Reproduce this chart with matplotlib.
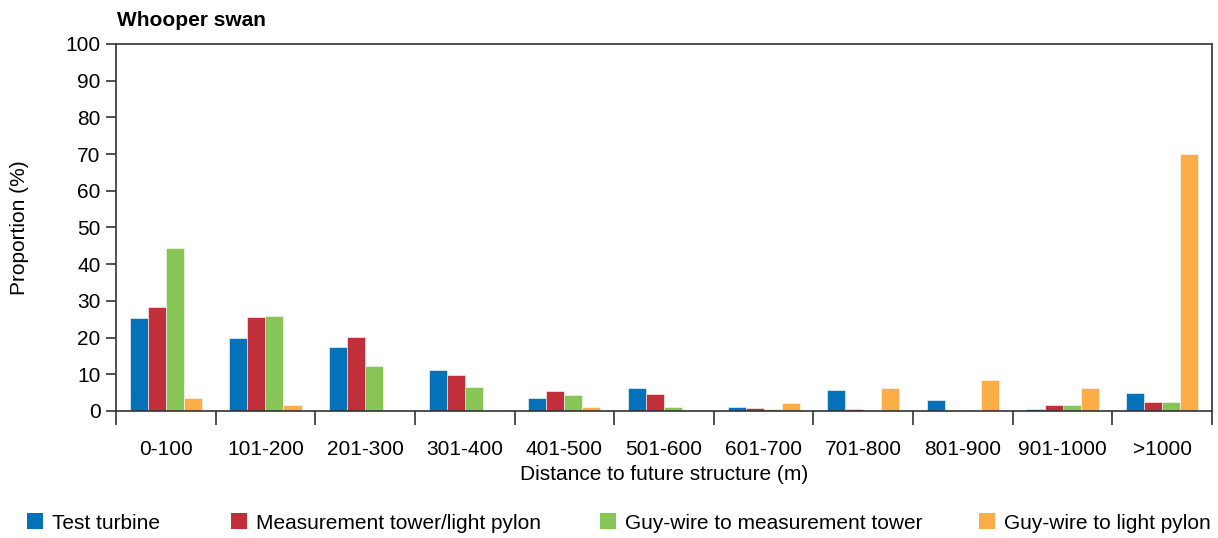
import matplotlib
matplotlib.use("Agg")
import matplotlib.pyplot as plt
import numpy as np
from matplotlib.patches import Patch

plt.rcParams['font.family'] = ['Liberation Sans', 'DejaVu Sans']

categories = ["0-100", "101-200", "201-300", "301-400", "401-500", "501-600",
              "601-700", "701-800", "801-900", "901-1000", ">1000"]
series_names = ["Test turbine", "Measurement tower/light pylon",
                "Guy-wire to measurement tower", "Guy-wire to light pylon"]
test_turbine = [25.3, 19.8, 17.5, 11.2, 3.6, 6.3, 1.1, 5.8, 2.9, 0.6, 5.0]
measurement_tower = [28.4, 25.5, 20.2, 9.8, 5.4, 4.5, 0.8, 0.5, 0.0, 1.7, 2.5]
guy_wire_tower = [44.4, 26.0, 12.3, 6.6, 4.3, 1.0, 0.5, 0.0, 0.0, 1.7, 2.5]
guy_wire_pylon = [3.5, 1.6, 0.3, 0.0, 1.2, 0.0, 2.3, 6.2, 8.4, 6.3, 69.9]
colors = ["#0571B9", "#C1303A", "#88C557", "#FBAD48"]

series = [test_turbine, measurement_tower, guy_wire_tower, guy_wire_pylon]
FS = 15

fig = plt.figure(figsize=(12.18, 5.38), dpi=100)
ax = fig.add_axes([116/1218, 1 - 411/538, (1212-116)/1218, (411-44)/538])

x = np.arange(len(categories))
w = 0.181
for i, (vals, c) in enumerate(zip(series, colors)):
    ax.bar(x + (i - 1.5) * w, vals, width=w, color=c, edgecolor='white',
           linewidth=0.4, label=series_names[i])

ax.set_xlim(-0.5, len(categories) - 0.5)
ax.set_ylim(0, 100)
ax.set_yticks(np.arange(0, 101, 10))
ax.set_xticks(np.arange(-0.5, len(categories), 1.0))
ax.set_xticklabels([])
ax.set_xticks(x, minor=True)
ax.set_xticklabels(categories, minor=True)
ax.tick_params(axis='x', which='major', length=10, width=1.2, color='#333333')
ax.tick_params(axis='x', which='minor', length=0, pad=21, labelsize=FS)
ax.tick_params(axis='y', length=7, width=1.2, labelsize=FS, color='#333333', pad=4)
for s in ax.spines.values():
    s.set_linewidth(1.2)
    s.set_color('#333333')

ax.set_ylabel("Proportion (%)", fontsize=FS)
ax.set_xlabel("Distance to future structure (m)", fontsize=FS)
ax.yaxis.set_label_coords((20 - 116) / 1096, 0.5)
ax.yaxis.label.set_va('center')
ax.xaxis.set_label_coords(0.5, (411 - 474) / 367)
ax.xaxis.label.set_va('center')

fig.text(117/1218, 1 - 20/538, "Whooper swan", fontsize=FS, fontweight='bold',
         va='center', ha='left')

square_x = [27, 231, 600, 979]
for name, c, sx in zip(series_names, colors, square_x):
    fig.legend([Patch(facecolor=c, edgecolor='none')], [name], loc='center left',
               bbox_to_anchor=(sx/1218, 1 - 523/538), frameon=False, fontsize=FS,
               handlelength=0.77, handleheight=0.77, handletextpad=0.43,
               borderaxespad=0, borderpad=0)

fig.savefig("out.png", dpi=100)
